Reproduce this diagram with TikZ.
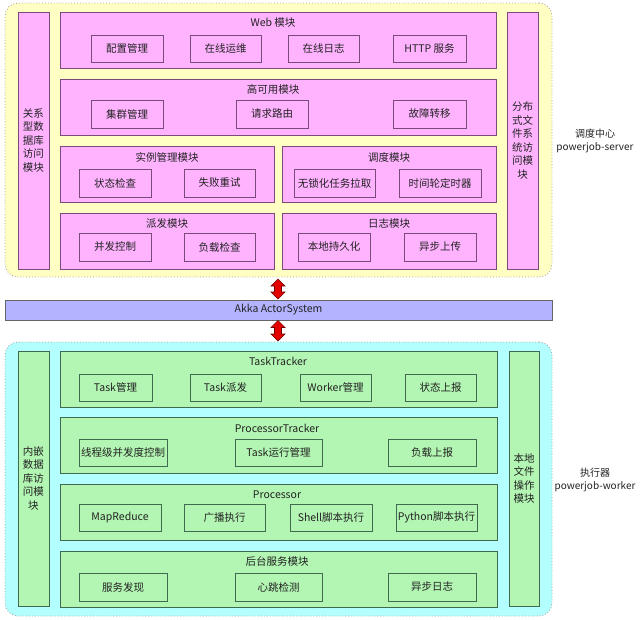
\documentclass[tikz,border=0pt]{standalone}
\usepackage{fontspec}
\setmainfont{Noto Sans CJK SC}
\definecolor{yel}{HTML}{FFFFC4}
\definecolor{pnk}{HTML}{FFB3FF}
\definecolor{pnkd}{HTML}{7A4A7A}
\definecolor{cyn}{HTML}{B3FFFF}
\definecolor{grn}{HTML}{B3F5B3}
\definecolor{grnd}{HTML}{3F6A4F}
\definecolor{lav}{HTML}{B3B3FF}
\definecolor{txt}{HTML}{222222}
\tikzset{
  cont/.style={draw=gray!70, dotted, line width=0.9pt, rounded corners=13pt},
  srv/.style={cont, fill=yel},
  wrk/.style={cont, fill=cyn},
  pk/.style={draw=pnkd, fill=pnk, line width=0.9pt, inner sep=0pt, text=txt, font=\fontsize{10.5}{13.5}\selectfont, align=center},
  gr/.style={draw=grnd, fill=grn, line width=0.9pt, inner sep=0pt, text=txt, font=\fontsize{10.5}{13.5}\selectfont, align=center},
  akka/.style={draw=gray!80!black, fill=lav, line width=0.9pt, inner sep=0pt, text=txt, font=\fontsize{10.5}{13}\selectfont},
  ttl/.style={text=txt, font=\fontsize{10.5}{13}\selectfont, inner sep=0pt},
  side/.style={text=txt, font=\fontsize{10}{13}\selectfont, inner sep=0pt, align=center},
  dbl/.style={fill=red!90!black, draw=red!45!black, line width=0.6pt}
}
\newcommand\bx[7]{\node[#6, minimum width={(#4-#2)*1pt}, minimum height={(#5-#3)*1pt}] (#1) at ({(#2+#4)/2},{(#3+#5)/2}) {#7};}
\newcommand\darrow[3]{\path[dbl] (#1,#2) --++(7,7) --++(-3.5,0) --++(0,#3-14) --++(3.5,0) --++(-7,7) --++(-7,-7) --++(3.5,0) --++(0,14-#3) --++(-3.5,0) -- cycle;}
\begin{document}
\begin{tikzpicture}[x=1pt,y=-1pt]
\useasboundingbox (0,0) rectangle (640,619);
% server
\bx{server}{5}{3}{552}{277}{srv}{}
\bx{ldb}{18}{12}{49}{269}{pk}{关系\\型数\\据库\\访问\\模块}
\bx{dfs}{507}{12}{538}{269}{pk}{分布\\式文\\件系\\统访\\问模\\块}
\bx{web}{60}{12}{496}{68}{pk}{}
\node[ttl] (webt) at (273,23) {Web 模块};
\bx{w1}{91}{35}{163}{62}{pk}{配置管理}
\bx{w2}{190}{35}{261}{62}{pk}{在线运维}
\bx{w3}{288}{35}{359}{62}{pk}{在线日志}
\bx{w4}{393}{35}{466}{62}{pk}{HTTP 服务}
\bx{ha}{60}{79}{496}{135}{pk}{}
\node[ttl] (hat) at (273,90) {高可用模块};
\bx{h1}{91}{100}{163}{128}{pk}{集群管理}
\bx{h2}{236}{100}{308}{128}{pk}{请求路由}
\bx{h3}{393}{100}{466}{128}{pk}{故障转移}
\bx{inst}{60}{146}{274}{202}{pk}{}
\node[ttl] (instt) at (167,157) {实例管理模块};
\bx{i1}{79}{169}{151}{197}{pk}{状态检查}
\bx{i2}{184}{169}{255}{197}{pk}{失败重试}
\bx{sched}{282}{146}{496}{202}{pk}{}
\node[ttl] (schedt) at (389,157) {调度模块};
\bx{s1}{294}{169}{375}{197}{pk}{无锁化任务拉取}
\bx{s2}{399}{169}{481}{197}{pk}{时间轮定时器}
\bx{disp}{60}{213}{274}{269}{pk}{}
\node[ttl] (dispt) at (167,224) {派发模块};
\bx{d1}{79}{233}{151}{261}{pk}{并发控制}
\bx{d2}{184}{233}{255}{261}{pk}{负载检查}
\bx{log}{282}{213}{496}{269}{pk}{}
\node[ttl] (logt) at (389,224) {日志模块};
\bx{l1}{298}{233}{370}{261}{pk}{本地持久化}
\bx{l2}{404}{233}{476}{261}{pk}{异步上传}
\node[side] (srvl) at (595,141) {调度中心\\powerjob-server};
% akka
\bx{akka}{5}{300}{552}{320}{akka}{Akka ActorSystem}
\darrow{278}{279}{20}
\darrow{278}{320.5}{20.5}
% worker
\bx{worker}{5}{342}{552}{616}{wrk}{}
\bx{edb}{18}{351}{49}{606}{gr}{内嵌\\数据\\库访\\问模\\块}
\bx{lfs}{509}{351}{539}{606}{gr}{本地\\文件\\操作\\模块}
\bx{tt}{60}{351}{497}{407}{gr}{}
\node[ttl] (ttt) at (278,361) {TaskTracker};
\bx{t1}{79}{374}{152}{401}{gr}{Task管理}
\bx{t2}{190}{374}{261}{401}{gr}{Task派发}
\bx{t3}{300}{374}{371}{401}{gr}{Worker管理}
\bx{t4}{405}{374}{476}{401}{gr}{状态上报}
\bx{pt}{60}{417}{497}{473}{gr}{}
\node[ttl] (ptt) at (277,428) {ProcessorTracker};
\bx{p1}{79}{439}{167}{466}{gr}{线程级并发度控制}
\bx{p2}{235}{439}{322}{466}{gr}{Task运行管理}
\bx{p3}{388}{439}{476}{466}{gr}{负载上报}
\bx{proc}{60}{484}{497}{540}{gr}{}
\node[ttl] (proct) at (277,495) {Processor};
\bx{q1}{79}{504}{161}{531}{gr}{MapReduce}
\bx{q2}{184}{504}{265}{531}{gr}{广播执行}
\bx{q3}{290}{504}{372}{531}{gr}{Shell脚本执行}
\bx{q4}{396}{504}{477}{531}{gr}{Python脚本执行}
\bx{bg}{60}{551}{497}{607}{gr}{}
\node[ttl] (bgt) at (277,561) {后台服务模块};
\bx{b1}{79}{573}{167}{601}{gr}{服务发现}
\bx{b2}{235}{573}{322}{601}{gr}{心跳检测}
\bx{b3}{388}{573}{476}{601}{gr}{异步日志}
\node[side] (wrkl) at (595,480) {执行器\\powerjob-worker};
\end{tikzpicture}
\end{document}
